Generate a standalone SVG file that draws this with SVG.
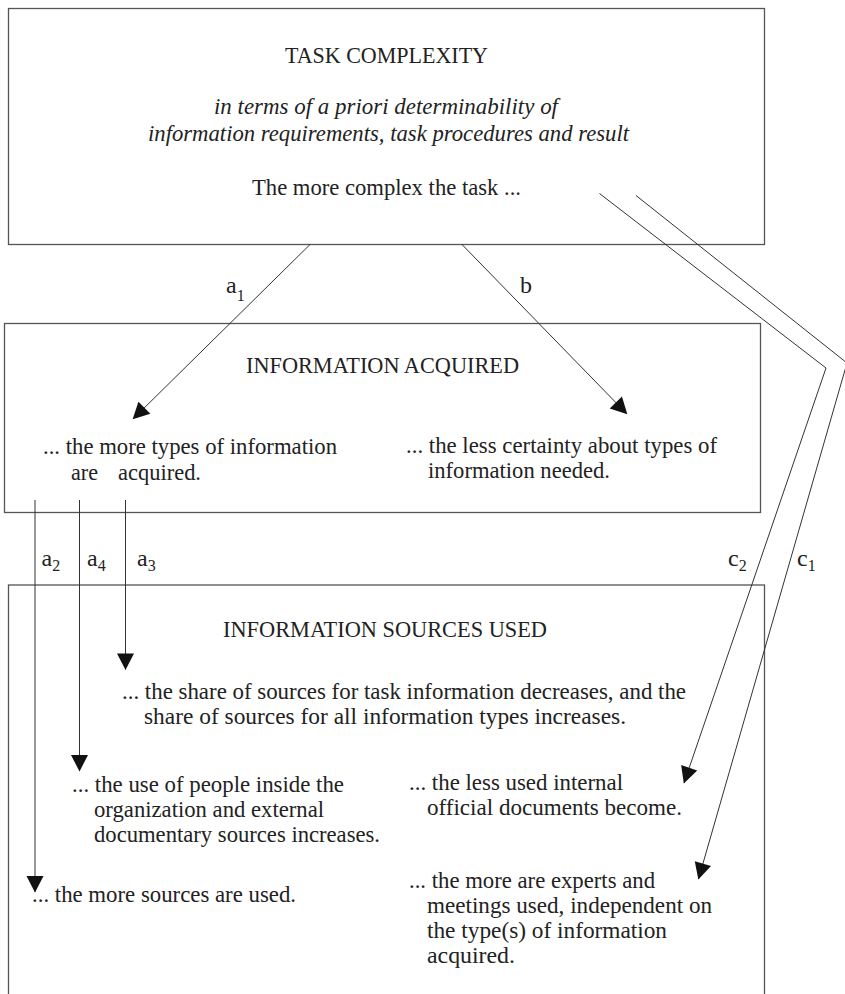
<svg xmlns="http://www.w3.org/2000/svg" width="845" height="994" viewBox="0 0 845 994">
<style>
  .box { fill: #ffffff; stroke: #555555; stroke-width: 1.3; }
  .t { font-family: "Liberation Serif", "Times New Roman", serif; font-size: 24px; fill: #222222; }
  .it { font-style: italic; }
  .sub { font-size: 16px; }
  .conn { fill: none; stroke: #333333; stroke-width: 1; }
</style>
<defs>
  <marker id="arrow" markerUnits="userSpaceOnUse" markerWidth="18" markerHeight="18" viewBox="0 0 17 18" refX="16" refY="9" orient="auto">
    <path d="M0,0.5 L16.5,9 L0,17.5 Z" fill="#111111"/>
  </marker>
</defs>
<rect width="845" height="994" fill="#ffffff"/>

<g id="task-complexity">
  <rect class="box" x="8.5" y="8.5" width="756" height="236"/>
  <text class="t" x="285" y="63" textLength="203" lengthAdjust="spacingAndGlyphs">TASK COMPLEXITY</text>
  <text class="t it" x="214" y="114" textLength="344" lengthAdjust="spacingAndGlyphs">in terms of a priori determinability of</text>
  <text class="t it" x="148" y="141" textLength="481" lengthAdjust="spacingAndGlyphs">information requirements, task procedures and result</text>
  <text class="t" x="252" y="195" textLength="269" lengthAdjust="spacingAndGlyphs">The more complex the task ...</text>
</g>

<g id="information-acquired">
  <rect class="box" x="4.5" y="323.5" width="756" height="189"/>
  <text class="t" x="246" y="373" textLength="273" lengthAdjust="spacingAndGlyphs">INFORMATION ACQUIRED</text>
  <text class="t" x="43" y="454" textLength="294" lengthAdjust="spacingAndGlyphs">... the more types of information</text>
  <text class="t" x="71" y="480" textLength="27" lengthAdjust="spacingAndGlyphs">are</text>
  <text class="t" x="118" y="480" textLength="83" lengthAdjust="spacingAndGlyphs">acquired.</text>
  <text class="t" x="406" y="453" textLength="311" lengthAdjust="spacingAndGlyphs">... the less certainty about types of</text>
  <text class="t" x="428" y="478" textLength="182" lengthAdjust="spacingAndGlyphs">information needed.</text>
</g>

<g id="information-sources-used">
  <rect class="box" x="8.5" y="585" width="756" height="420"/>
  <text class="t" x="223" y="637" textLength="324" lengthAdjust="spacingAndGlyphs">INFORMATION SOURCES USED</text>
  <text class="t" x="122" y="699" textLength="564" lengthAdjust="spacingAndGlyphs">... the share of sources for task information decreases, and the</text>
  <text class="t" x="144" y="724" textLength="482" lengthAdjust="spacingAndGlyphs">share of sources for all information types increases.</text>
  <text class="t" x="72" y="792" textLength="272" lengthAdjust="spacingAndGlyphs">... the use of people inside the</text>
  <text class="t" x="94" y="817" textLength="230" lengthAdjust="spacingAndGlyphs">organization and external</text>
  <text class="t" x="94" y="842" textLength="286" lengthAdjust="spacingAndGlyphs">documentary sources increases.</text>
  <text class="t" x="32" y="902" textLength="264" lengthAdjust="spacingAndGlyphs">... the more sources are used.</text>
  <text class="t" x="409" y="790" textLength="214" lengthAdjust="spacingAndGlyphs">... the less used internal</text>
  <text class="t" x="427" y="815" textLength="255" lengthAdjust="spacingAndGlyphs">official documents become.</text>
  <text class="t" x="409" y="888" textLength="246" lengthAdjust="spacingAndGlyphs">... the more are experts and</text>
  <text class="t" x="427" y="913" textLength="285" lengthAdjust="spacingAndGlyphs">meetings used, independent on</text>
  <text class="t" x="427" y="938" textLength="240" lengthAdjust="spacingAndGlyphs">the type(s) of information</text>
  <text class="t" x="427" y="963" textLength="88" lengthAdjust="spacingAndGlyphs">acquired.</text>
</g>

<g id="connectors">
  <line class="conn" x1="310" y1="244.5" x2="133" y2="419" marker-end="url(#arrow)"/>
  <line class="conn" x1="462" y1="244.5" x2="627" y2="414" marker-end="url(#arrow)"/>
  <line class="conn" x1="35" y1="500" x2="35" y2="892" marker-end="url(#arrow)"/>
  <line class="conn" x1="79.5" y1="500" x2="79.5" y2="771" marker-end="url(#arrow)"/>
  <line class="conn" x1="125.5" y1="500" x2="125.5" y2="669.5" marker-end="url(#arrow)"/>
  <polyline class="conn" points="599.5,193.5 826,368 684,783" marker-end="url(#arrow)"/>
  <polyline class="conn" points="636,195.5 847,363 698.5,879" marker-end="url(#arrow)"/>
  <g id="connector-labels">
    <text class="t" x="226" y="293">a<tspan class="sub" dy="8">1</tspan></text>
    <text class="t" x="520" y="293">b</text>
    <text class="t" x="41.5" y="566">a<tspan class="sub" dy="5">2</tspan></text>
    <text class="t" x="87" y="566">a<tspan class="sub" dy="5">4</tspan></text>
    <text class="t" x="137" y="566">a<tspan class="sub" dy="5">3</tspan></text>
    <text class="t" x="728" y="566">c<tspan class="sub" dy="5">2</tspan></text>
    <text class="t" x="797" y="566">c<tspan class="sub" dy="5">1</tspan></text>
  </g>
</g>
</svg>
